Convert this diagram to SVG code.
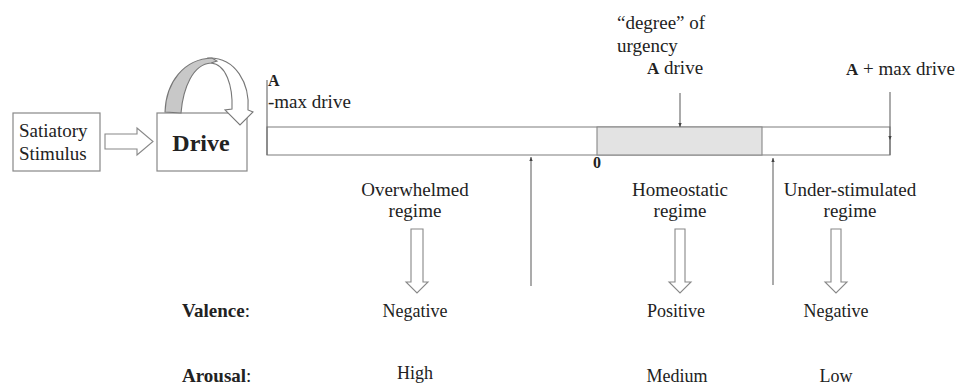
<svg xmlns="http://www.w3.org/2000/svg" width="961" height="386" viewBox="0 0 961 386">
  <style>
    text { font-family: "Liberation Serif", "Times New Roman", serif; fill: #222; font-size: 19px; }
    .b { font-weight: bold; }
    .c { text-anchor: middle; }
    .v { font-size: 18px; }
    .box { fill: #fff; stroke: #888; stroke-width: 1.2; }
    .ln { fill: none; stroke: #666; stroke-width: 1.1; }
    .blk { fill: #fff; stroke: #888; stroke-width: 1.1; stroke-linejoin: miter; }
  </style>
  <defs>
    <marker id="tip" markerWidth="5" markerHeight="5" refX="4" refY="2.5" orient="auto" markerUnits="userSpaceOnUse">
      <path d="M0,0.8 L4,2.5 L0,4.2 Z" fill="#444"/>
    </marker>
  </defs>

  <!-- Satiatory stimulus -->
  <g id="stimulus">
    <rect class="box" x="13" y="113" width="87" height="58"/>
    <text x="19" y="137">Satiatory</text>
    <text x="19" y="160">Stimulus</text>
  </g>

  <!-- Drive node with its feedback loop -->
  <g id="drive">
    <rect class="box" x="157" y="113" width="90" height="58"/>
    <text class="b c" x="201" y="151" style="font-size:24px">Drive</text>
  </g>
  <g id="drive-loop">
    <path d="M208,58 C236,57 250,84 248,110 L253,112 L240,125 L225,110 L232,109 C233,86 226,64 211,63 Z" fill="#fff" stroke="#777" stroke-width="1.1"/>
    <path d="M165,112 C166,82 184,59 212,58 L217,61 L211,63 C193,64 183,88 181,113 Z" fill="#c8c8c8" stroke="#777" stroke-width="1.1"/>
  </g>

  <!-- Drive scale -->
  <g id="scale">
    <rect x="267" y="127" width="623" height="28" fill="#fff" stroke="#888" stroke-width="1.1"/>
    <rect x="597" y="127" width="165" height="28" fill="#e3e3e3" stroke="#888" stroke-width="1.1"/>
    <line class="ln" x1="267" y1="80" x2="267" y2="155"/>
    <text class="b" x="268" y="86" style="font-size:16px">A</text>
    <text x="268" y="108">-max drive</text>
    <text class="b c" x="597" y="168" style="font-size:16px">0</text>
    <text x="617" y="29">“degree” of</text>
    <text x="617" y="52">urgency</text>
    <text x="647" y="74"><tspan class="b" style="font-size:17px">A</tspan> drive</text>
    <text x="846" y="75"><tspan class="b" style="font-size:17px">A</tspan> + max drive</text>
  </g>

  <!-- Regimes -->
  <g id="overwhelmed">
    <text class="c" x="415" y="196">Overwhelmed</text>
    <text class="c" x="415" y="217">regime</text>
  </g>
  <g id="homeostatic">
    <text class="c" x="680" y="196">Homeostatic</text>
    <text class="c" x="680" y="217">regime</text>
  </g>
  <g id="understimulated">
    <text class="c" x="850" y="196">Under-stimulated</text>
    <text class="c" x="850" y="217">regime</text>
  </g>

  <!-- Valence / arousal rows -->
  <g id="labels">
    <text x="182" y="317"><tspan class="b">Valence</tspan>:</text>
    <text x="182" y="382"><tspan class="b">Arousal</tspan>:</text>
    <text class="c v" x="415" y="317">Negative</text>
    <text class="c v" x="676" y="317">Positive</text>
    <text class="c v" x="836" y="317">Negative</text>
    <text class="c v" x="415" y="379">High</text>
    <text class="c v" x="677" y="382">Medium</text>
    <text class="c v" x="836" y="382">Low</text>
  </g>

  <!-- Connectors -->
  <g id="connectors">
    <path class="blk" d="M105,134 L137,134 L137,128 L153,141.5 L137,155 L137,149 L105,149 Z"/>
    <path class="blk" d="M411,229 L423,229 L423,282 L428,282 L417,293 L406,282 L411,282 Z"/>
    <path class="blk" d="M675,229 L685,229 L685,282 L691,282 L680,293 L669,282 L675,282 Z"/>
    <path class="blk" d="M831,229 L841,229 L841,282 L847,282 L836,293 L825,282 L831,282 Z"/>
    <line class="ln" x1="680" y1="93" x2="680" y2="127" marker-end="url(#tip)"/>
    <line class="ln" x1="890" y1="92" x2="890" y2="140" marker-end="url(#tip)"/>
    <line class="ln" x1="890" y1="140" x2="890" y2="155"/>
    <line class="ln" x1="531" y1="286" x2="531" y2="157" marker-end="url(#tip)"/>
    <line class="ln" x1="773" y1="285" x2="773" y2="158" marker-end="url(#tip)"/>
  </g>
</svg>
